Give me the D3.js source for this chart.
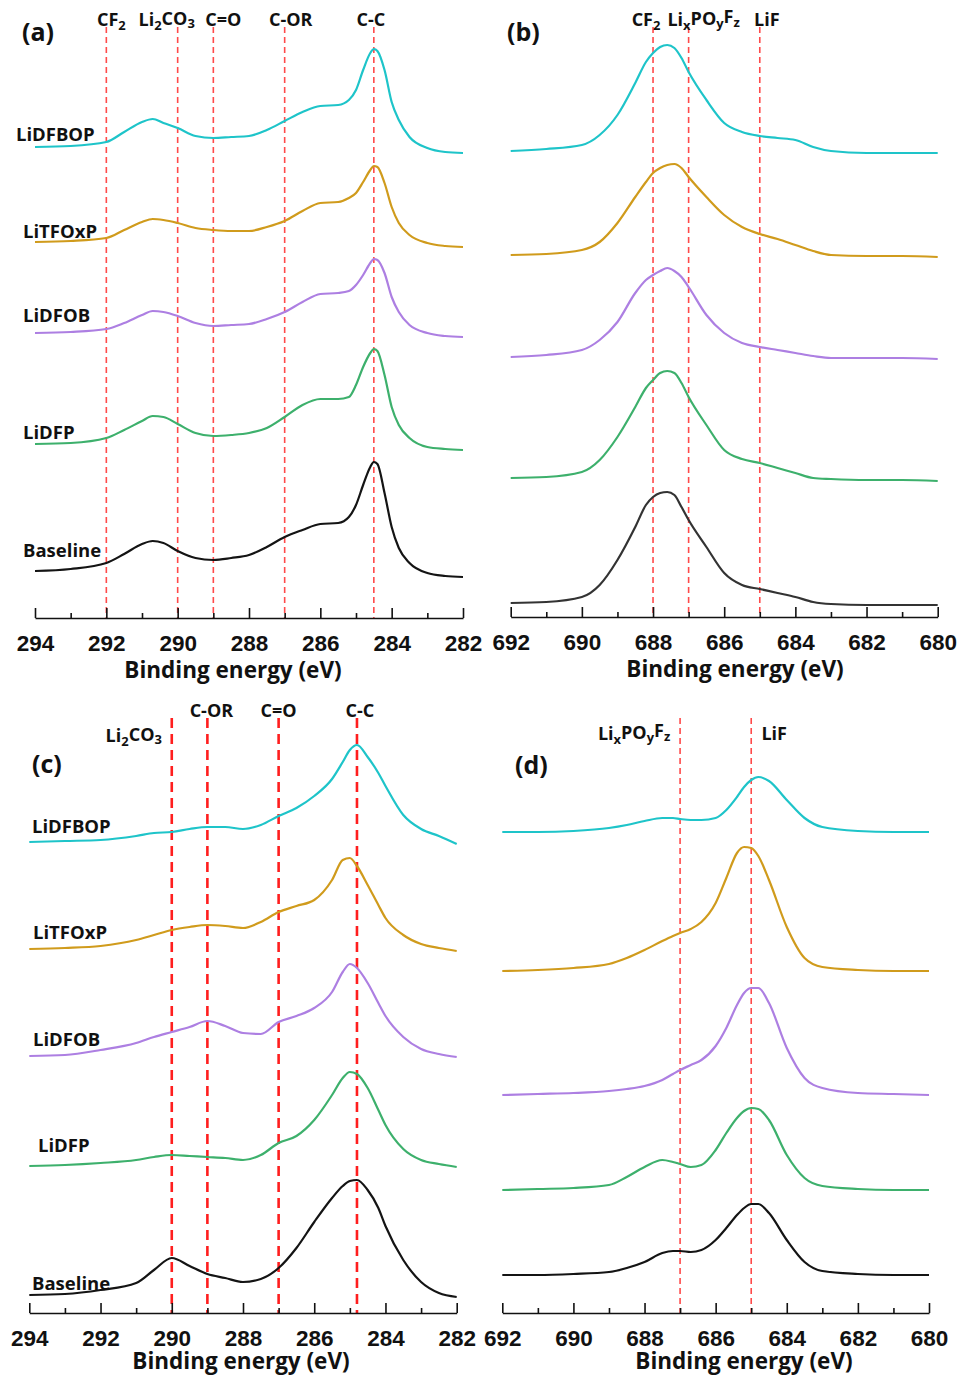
<html>
<script src="https://d3js.org/d3.v7.min.js" charset="utf-8"></script>
<style>
body { margin: 0; background: #fff; }
text { font-family: "Open Sans", "Noto Sans", sans-serif; font-weight: 700; fill: #111; }
.tick text { font-family: "Liberation Sans", Arial, sans-serif; font-weight: 700; font-size: 22.5px; fill: #111; }
</style>
<body></body>
<script>

// series names / colours shared by all four panels
var seriesNames = ["LiDFBOP", "LiTFOxP", "LiDFOB", "LiDFP", "Baseline"];
var seriesColors = ["#1ec4c9", "#d09b1c", "#ad7fe2", "#3db06c", "#141414"];

// (a) C 1s, first set
var energyA = [294, 293, 292, 291.5, 291, 290.7, 290.4, 290, 289.5, 289, 288.5, 288, 287.5, 287, 286.5, 286, 285.5, 285.2, 285, 284.8, 284.6, 284.5, 284.4, 284.2, 284, 283.8, 283.5, 283, 282.5, 282];
var aLiDFBOP = [471, 472, 476, 486, 496, 499, 495, 490, 482, 480, 481, 482, 488, 497, 506, 512, 513, 518, 528, 548, 565, 569, 567, 548, 516, 498, 481, 470, 466, 465];
var aLiTFOxP = [376, 377, 380, 388, 396, 399, 398, 395, 390, 388, 387, 387, 391, 397, 407, 415, 416, 420, 425, 436, 448, 452, 451, 435, 411, 395, 383, 375, 372, 371];
var aLiDFOB = [285, 286, 289, 295, 303, 307, 306, 302, 295, 292, 293, 294, 299, 306, 316, 324, 325, 327, 333, 343, 355, 359, 358, 345, 321, 306, 293, 285, 282, 281];
var aLiDFP = [174, 175, 180, 188, 197, 202, 201, 194, 185, 182, 183, 185, 190, 201, 213, 219, 219, 221, 233, 251, 265, 269, 267, 243, 211, 193, 180, 171, 169, 168];
var aBaseline = [47, 49, 55, 64, 74, 77, 75, 67, 60, 58, 60, 63, 71, 81, 88, 94, 95, 101, 113, 133, 151, 156, 154, 125, 91, 70, 55, 45, 42, 41];
var aRefs = [292, 290, 289, 287, 284.5];
var aRefNames = ["CF_2", "Li_2CO_3", "C=O", "C-OR", "C-C"];

// (b) F 1s, first set
var energyB = [692, 691, 690, 689.5, 689, 688.5, 688.2, 688, 687.8, 687.6, 687.4, 687.2, 687, 686.5, 686, 685.5, 685, 684.5, 684, 683.5, 683, 682, 681, 680];
var bLiDFBOP = [466, 468, 472, 482, 502, 534, 555, 564, 570, 572, 569, 559, 545, 517, 494, 485, 481, 479, 477, 470, 466, 464, 464, 464];
var bLiTFOxP = [362, 363, 367, 375, 394, 420, 435, 444, 449, 452, 453, 449, 440, 420, 402, 390, 383, 378, 372, 366, 362, 361, 361, 360];
var bLiDFOB = [260, 262, 267, 277, 295, 324, 337, 342, 346, 349, 346, 340, 330, 302, 284, 274, 270, 267, 264, 261, 259, 259, 259, 258];
var bLiDFP = [139, 140, 145, 157, 180, 210, 229, 237, 244, 246, 244, 234, 220, 192, 167, 158, 154, 149, 144, 139, 138, 137, 137, 136];
var bBaseline = [14, 15, 20, 32, 57, 90, 112, 120, 124, 125, 122, 110, 97, 70, 44, 32, 28, 24, 20, 15, 13, 12, 12, 12];
var bRefs = [688, 687, 685];
var bRefNames = ["CF_2", "Li_xPO_yF_z", "LiF"];

// (c) C 1s, second set
var energyC = [294, 293, 292, 291, 290.5, 290, 289.5, 289, 288.5, 288, 287.5, 287, 286.5, 286, 285.5, 285.2, 285, 284.8, 284.5, 284.2, 284, 283.5, 283, 282.5, 282];
var cLiDFBOP = [471, 472, 473, 477, 480, 481, 484, 486, 486, 484, 488, 497, 505, 517, 534, 551, 563, 568, 556, 540, 527, 498, 484, 477, 469];
var cLiTFOxP = [364, 365, 367, 373, 378, 383, 386, 388, 387, 385, 391, 401, 407, 413, 433, 453, 455, 447, 428, 408, 395, 378, 369, 365, 362];
var cLiDFOB = [257, 258, 263, 270, 276, 281, 286, 292, 287, 280, 279, 291, 297, 305, 321, 341, 349, 345, 330, 310, 297, 276, 264, 259, 256];
var cLiDFP = [147, 148, 150, 153, 156, 158, 157, 156, 155, 153, 158, 170, 177, 193, 218, 235, 241, 239, 225, 203, 188, 164, 153, 149, 146];
var cBaseline = [18, 19, 23, 30, 43, 55, 47, 39, 35, 31, 34, 45, 65, 91, 115, 127, 132, 133, 123, 105, 87, 53, 31, 20, 16];
var cRefs = [290, 289, 287, 284.8];
var cRefNames = ["Li_2CO_3", "C-OR", "C=O", "C-C"];

// (d) F 1s, second set
var energyD = [692, 691, 690, 689, 688.5, 688, 687.5, 687.2, 687, 686.7, 686.4, 686, 685.7, 685.4, 685.2, 685, 684.8, 684.5, 684, 683.5, 683, 682, 681, 680];
var dLiDFBOP = [481, 481, 482, 485, 488, 492, 495, 495, 494, 493, 493, 495, 503, 516, 526, 533, 536, 532, 513, 495, 486, 482, 481, 481];
var dLiTFOxP = [342, 343, 345, 349, 355, 363, 372, 377, 380, 384, 391, 410, 435, 460, 466, 465, 457, 433, 386, 355, 346, 343, 342, 342];
var dLiDFOB = [218, 219, 220, 222, 224, 227, 233, 239, 243, 248, 253, 267, 285, 308, 320, 325, 325, 310, 265, 235, 225, 220, 219, 218];
var dLiDFP = [123, 124, 125, 128, 136, 146, 153, 151, 149, 146, 148, 163, 180, 195, 202, 205, 204, 193, 158, 135, 127, 124, 123, 123];
var dBaseline = [38, 38, 39, 41, 45, 51, 60, 62, 62, 61, 63, 73, 85, 98, 105, 109, 109, 100, 73, 51, 42, 39, 38, 38];
var dRefs = [687, 685];
var dRefNames = ["Li_xPO_yF_z", "LiF"];

var W = 962, H = 1377;
var svg = d3.select("body").append("svg").attr("width", W).attr("height", H);

// layout of each panel (pixels)
var panels = [
	{ tag: "(a)", tagX: 22, tagY: 41, x0: 35, x1: 463, axisY: 618, top: 27, dom: [294, 282],
	  energy: energyA, series: [aLiDFBOP, aLiTFOxP, aLiDFOB, aLiDFP, aBaseline],
	  refs: aRefs, refNames: aRefNames, refDx: [5, -11, 10, 6, -3], refY: [26, 26, 26, 26, 26],
	  dash: "6,4", dashW: 1.6, dashC: "#ff4a4a",
	  labX: [16, 23, 23, 23, 23], labY: [141, 238, 322, 439, 557],
	  titleX: 233, titleDy: 60 },
	{ tag: "(b)", tagX: 507, tagY: 41, x0: 510.7, x1: 937.7, axisY: 617, top: 27, dom: [692, 680],
	  energy: energyB, series: [bLiDFBOP, bLiTFOxP, bLiDFOB, bLiDFP, bBaseline],
	  refs: bRefs, refNames: bRefNames, refDx: [-7, 15, 7], refY: [26, 26, 26],
	  dash: "6,4", dashW: 1.6, dashC: "#ff4a4a",
	  labX: null, labY: null,
	  titleX: 735, titleDy: 60, lastColor: "#333" },
	{ tag: "(c)", tagX: 32, tagY: 773, x0: 29.3, x1: 456.7, axisY: 1313, top: 718, dom: [294, 282],
	  energy: energyC, series: [cLiDFBOP, cLiTFOxP, cLiDFOB, cLiDFP, cBaseline],
	  refs: cRefs, refNames: cRefNames, refDx: [-38, 4, 0, 3], refY: [742, 717, 717, 717],
	  dash: "10,6", dashW: 2.6, dashC: "#ff1e1e",
	  labX: [32, 33, 33, 38, 32], labY: [833, 939, 1046, 1152, 1290],
	  titleX: 241, titleDy: 56 },
	{ tag: "(d)", tagX: 515, tagY: 774, x0: 502.3, x1: 929, axisY: 1313, top: 718, dom: [692, 680],
	  energy: energyD, series: [dLiDFBOP, dLiTFOxP, dLiDFOB, dLiDFP, dBaseline],
	  refs: dRefs, refNames: dRefNames, refDx: [-46, 23], refY: [740, 740],
	  dash: "6,4", dashW: 1.6, dashC: "#ff4a4a",
	  labX: null, labY: null,
	  titleX: 744, titleDy: 56 }
];

// "Li_2CO_3" -> Li, sub 2, CO, sub 3
function addChem(sel, name) {
	var parts = name.split(/_(.)/);
	parts.forEach(function(p, i) {
		if (!p) return;
		if (i % 2 == 1) {
			sel.append("tspan").attr("font-size", "0.72em").attr("dy", "0.28em").text(p);
		} else {
			var t = sel.append("tspan").text(p);
			if (i > 0) t.attr("dy", "-0.28em");
		}
	});
}

panels.forEach(function(p) {
	var g = svg.append("g");
	var x = d3.scaleLinear().domain(p.dom).range([p.x0, p.x1]);
	var y = d3.scaleLinear().domain([0, 590]).range([p.axisY, p.axisY - 590]);

	// reference lines
	g.selectAll(".ref").data(p.refs).enter().append("line")
		.attr("x1", function(d) { return x(d); })
		.attr("x2", function(d) { return x(d); })
		.attr("y1", p.top)
		.attr("y2", p.axisY)
		.style("stroke", p.dashC)
		.style("stroke-width", p.dashW)
		.style("stroke-dasharray", p.dash);

	p.refNames.forEach(function(n, i) {
		var t = g.append("text")
			.attr("x", x(p.refs[i]) + p.refDx[i])
			.attr("y", p.refY[i])
			.attr("text-anchor", "middle")
			.style("font-size", "18px");
		addChem(t, n);
	});

	// spectra
	var line = d3.line()
		.x(function(d) { return x(d[0]); })
		.y(function(d) { return y(d[1]); })
		.curve(d3.curveMonotoneX);

	p.series.forEach(function(s, k) {
		var pts = p.energy.map(function(e, i) { return [e, s[i]]; });
		var col = seriesColors[k];
		if (k == 4 && p.lastColor) col = p.lastColor;
		g.append("path")
			.attr("d", line(pts))
			.style("fill", "none")
			.style("stroke", col)
			.style("stroke-width", 2.2)
			.style("stroke-linejoin", "round");
	});

	if (p.labX) {
		seriesNames.forEach(function(n, k) {
			g.append("text")
				.attr("x", p.labX[k])
				.attr("y", p.labY[k])
				.style("font-size", "18.5px")
				.text(n);
		});
	}

	// axis: majors every 2 eV, minors every 1 eV, ticks pointing up
	var majors = d3.range(p.dom[1], p.dom[0] + 0.1, 2);
	var minors = d3.range(p.dom[1] + 1, p.dom[0], 2);
	var ax = g.append("g").attr("transform", "translate(0," + p.axisY + ")")
		.call(d3.axisBottom(x).tickValues(majors).tickSizeInner(-10).tickSizeOuter(0).tickPadding(17).tickFormat(d3.format("d")));
	ax.select(".domain").style("stroke", "#111").style("stroke-width", 1.6);
	ax.selectAll(".tick line").style("stroke", "#111").style("stroke-width", 1.6);
	ax.selectAll(".tick text").attr("dy", "0.71em");
	var mi = g.append("g").attr("transform", "translate(0," + p.axisY + ")")
		.call(d3.axisBottom(x).tickValues(minors).tickSizeInner(-5).tickSizeOuter(0).tickFormat(""));
	mi.select(".domain").remove();
	mi.selectAll(".tick line").style("stroke", "#111").style("stroke-width", 1.6);

	g.append("text")
		.attr("x", p.titleX)
		.attr("y", p.axisY + p.titleDy)
		.attr("text-anchor", "middle")
		.style("font-size", "22.5px")
		.text("Binding energy (eV)");

	g.append("text")
		.attr("x", p.tagX)
		.attr("y", p.tagY)
		.style("font-size", "25px")
		.text(p.tag);
});

</script>
</html>
